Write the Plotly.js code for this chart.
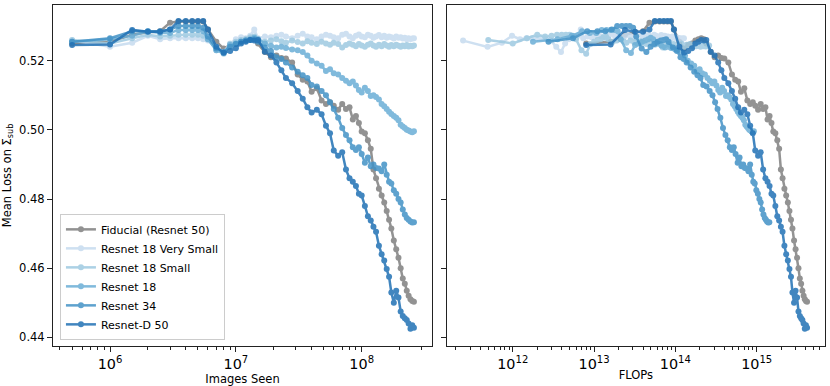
<!DOCTYPE html>
<html>
<head>
<meta charset="utf-8">
<script src="https://cdn.plot.ly/plotly-3.0.1.min.js"></script>
<style>
  html, body { margin: 0; padding: 0; background: #fff; }
  #chart { width: 830px; height: 386px; }
</style>
</head>
<body>
<div id="chart"></div>
<script>
// images seen at each evaluation (millions)
const imagesSeenM = [0.5, 1, 1.5, 2, 2.5, 3, 3.5, 4, 4.5, 5, 5.5, 6, 7, 8, 9, 10, 11, 12, 13, 14, 15,
  17, 19, 21, 23, 25, 28, 31, 34, 37, 40, 44, 48, 52, 56, 60, 65, 70, 75, 80, 85, 90, 95, 100,
  106, 112, 118, 124, 130, 137, 144, 151, 158, 165, 172, 180, 188, 196, 204, 212, 220, 228, 236, 244, 252, 260];

const fiducial = [0.5250, 0.5255, 0.5275, 0.5282, 0.5285, 0.5310, 0.5313, 0.5313, 0.5313, 0.5313, 0.5313, 0.5290,
  0.5255, 0.5235, 0.5245, 0.5250, 0.5258, 0.5262, 0.5265, 0.5262, 0.5250, 0.5225, 0.5210, 0.5215, 0.5208, 0.5206,
  0.5195, 0.5160, 0.5145, 0.5140, 0.5110, 0.5120, 0.5085, 0.5075, 0.5080, 0.5070, 0.5058, 0.5075, 0.5060, 0.5065,
  0.5030, 0.5040, 0.5020, 0.4995, 0.4990, 0.4970, 0.4945, 0.4885, 0.4860, 0.4830, 0.4810, 0.4790, 0.4765, 0.4740,
  0.4715, 0.4680, 0.4655, 0.4630, 0.4600, 0.4570, 0.4555, 0.4535, 0.4520, 0.4510, 0.4505, 0.4503];

const resnet18VerySmall = [0.5258, 0.5240, 0.5252, 0.5272, 0.5262, 0.5265, 0.5265, 0.5265, 0.5265, 0.5265, 0.5262,
  0.5258, 0.5240, 0.5225, 0.5250, 0.5262, 0.5268, 0.5265, 0.5272, 0.5290, 0.5265, 0.5270, 0.5268, 0.5272, 0.5275,
  0.5270, 0.5265, 0.5272, 0.5278, 0.5270, 0.5268, 0.5262, 0.5270, 0.5275, 0.5272, 0.5268, 0.5265, 0.5275, 0.5278,
  0.5270, 0.5265, 0.5272, 0.5276, 0.5270, 0.5268, 0.5275, 0.5272, 0.5266, 0.5270, 0.5274, 0.5268, 0.5272, 0.5266,
  0.5270, 0.5268, 0.5264, 0.5270, 0.5266, 0.5268, 0.5264, 0.5266, 0.5262, 0.5265, 0.5263, 0.5264, 0.5265];

const resnet18Small = [0.5260, 0.5250, 0.5265, 0.5275, 0.5270, 0.5272, 0.5275, 0.5275, 0.5275, 0.5275, 0.5272,
  0.5262, 0.5230, 0.5220, 0.5248, 0.5255, 0.5260, 0.5262, 0.5268, 0.5270, 0.5262, 0.5255, 0.5258, 0.5262, 0.5256,
  0.5252, 0.5258, 0.5254, 0.5250, 0.5256, 0.5252, 0.5248, 0.5255, 0.5250, 0.5246, 0.5252, 0.5248, 0.5238, 0.5245,
  0.5250, 0.5246, 0.5242, 0.5248, 0.5244, 0.5240, 0.5246, 0.5250, 0.5244, 0.5240, 0.5246, 0.5242, 0.5248, 0.5244,
  0.5240, 0.5245, 0.5242, 0.5246, 0.5243, 0.5240, 0.5244, 0.5242, 0.5245, 0.5241, 0.5243, 0.5242, 0.5244];

const resnet18 = [0.5255, 0.5262, 0.5272, 0.5285, 0.5280, 0.5280, 0.5289, 0.5289, 0.5289, 0.5289, 0.5285,
  0.5262, 0.5230, 0.5222, 0.5245, 0.5250, 0.5255, 0.5258, 0.5262, 0.5266, 0.5262, 0.5250, 0.5243, 0.5238, 0.5240,
  0.5237, 0.5232, 0.5230, 0.5225, 0.5215, 0.5200, 0.5192, 0.5185, 0.5170, 0.5175, 0.5164, 0.5160, 0.5150, 0.5142,
  0.5135, 0.5140, 0.5128, 0.5115, 0.5108, 0.5122, 0.5112, 0.5098, 0.5100, 0.5095, 0.5088, 0.5075, 0.5068, 0.5060,
  0.5052, 0.5046, 0.5040, 0.5035, 0.5028, 0.5015, 0.5010, 0.5005, 0.5000, 0.4998, 0.4995, 0.4993, 0.4996];

const resnet34 = [0.5255, 0.5265, 0.5285, 0.5285, 0.5285, 0.5290, 0.5300, 0.5300, 0.5300, 0.5300, 0.5295,
  0.5270, 0.5235, 0.5225, 0.5240, 0.5248, 0.5255, 0.5258, 0.5260, 0.5262, 0.5255, 0.5238, 0.5228, 0.5210, 0.5205,
  0.5195, 0.5180, 0.5168, 0.5158, 0.5150, 0.5130, 0.5125, 0.5112, 0.5100, 0.5080, 0.5060, 0.5035, 0.5005, 0.4985,
  0.4970, 0.4950, 0.4942, 0.4950, 0.4930, 0.4905, 0.4920, 0.4895, 0.4900, 0.4890, 0.4888, 0.4880, 0.4900, 0.4870,
  0.4850, 0.4845, 0.4825, 0.4815, 0.4800, 0.4790, 0.4770, 0.4755, 0.4745, 0.4740, 0.4735, 0.4732, 0.4733];

const resnetD50 = [0.5245, 0.5247, 0.5289, 0.5284, 0.5284, 0.5290, 0.5315, 0.5315, 0.5315, 0.5315, 0.5315,
  0.5290, 0.5240, 0.5223, 0.5228, 0.5236, 0.5250, 0.5255, 0.5260, 0.5258, 0.5260, 0.5226, 0.5215, 0.5195, 0.5172,
  0.5150, 0.5135, 0.5112, 0.5090, 0.5065, 0.5050, 0.5058, 0.5045, 0.5012, 0.4990, 0.4940, 0.4925, 0.4935, 0.4885,
  0.4860, 0.4850, 0.4838, 0.4815, 0.4810, 0.4780, 0.4750, 0.4738, 0.4720, 0.4705, 0.4665, 0.4640, 0.4622, 0.4598,
  0.4575, 0.4530, 0.4500, 0.4535, 0.4515, 0.4475, 0.4462, 0.4455, 0.4450, 0.4440, 0.4425, 0.4435, 0.4428];

// training FLOPs per image seen, per model
const flopsPerImage = [1.6e7, 4.9e5, 1.0e6, 3.55e6, 5.5e6, 1.6e7];

const names = ['Fiducial (Resnet 50)', 'Resnet 18 Very Small', 'Resnet 18 Small', 'Resnet 18', 'Resnet 34', 'Resnet-D 50'];
const colors = ['#808080', '#c6dbef', '#9ecae1', '#6baed6', '#4292c6', '#2171b5'];
const losses = [fiducial, resnet18VerySmall, resnet18Small, resnet18, resnet34, resnetD50];

const images = imagesSeenM.map(m => m * 1e6);

const data = [];
names.forEach((name, i) => {
  const style = {
    mode: 'lines+markers',
    type: 'scatter',
    line: { color: colors[i], width: 2.5 },
    marker: { color: colors[i], size: 6 },
    opacity: 0.85
  };
  data.push(Object.assign({ x: images, y: losses[i], name: name, xaxis: 'x', yaxis: 'y' }, style));
  data.push(Object.assign({ x: images.map(v => v * flopsPerImage[i]), y: losses[i], name: name,
    xaxis: 'x2', yaxis: 'y2', showlegend: false }, style));
});

const axisStyle = {
  showline: true, mirror: true, linecolor: '#222', linewidth: 1,
  ticks: 'outside', ticklen: 5, tickcolor: '#222', tickwidth: 1,
  showgrid: false, zeroline: false,
  tickfont: { family: 'DejaVu Sans', size: 11.5, color: '#000' }
};
const logMinor = { ticks: 'outside', ticklen: 3, tickcolor: '#222', dtick: 'D1', showgrid: false };

const layout = {
  width: 830, height: 386,
  margin: { l: 53, r: 5, t: 5, b: 40 },
  paper_bgcolor: '#fff', plot_bgcolor: '#fff',
  font: { family: 'DejaVu Sans', size: 11.5, color: '#000' },
  xaxis: Object.assign({}, axisStyle, {
    type: 'log', domain: [0, 0.491], range: [5.547, 8.559], dtick: 1,
    exponentformat: 'power', minor: logMinor,
    title: { text: 'Images Seen', font: { size: 11.5 }, standoff: 0 }
  }),
  xaxis2: Object.assign({}, axisStyle, {
    type: 'log', domain: [0.51, 1], range: [11.188, 15.84], dtick: 1, anchor: 'y2',
    exponentformat: 'power', minor: logMinor,
    title: { text: 'FLOPs', font: { size: 11.5 }, standoff: 0 }
  }),
  yaxis: Object.assign({}, axisStyle, {
    range: [0.4375, 0.5361], tickvals: [0.44, 0.46, 0.48, 0.50, 0.52], tickformat: '.2f',
    title: { text: 'Mean Loss on Σ<sub>sub</sub>', font: { size: 11.5 }, standoff: 5 }
  }),
  yaxis2: Object.assign({}, axisStyle, {
    range: [0.4375, 0.5361], tickvals: [0.44, 0.46, 0.48, 0.50, 0.52], anchor: 'x2',
    matches: 'y', showticklabels: false
  }),
  showlegend: true,
  legend: {
    x: 0.009, y: 0.018, xanchor: 'left', yanchor: 'bottom',
    bgcolor: 'rgba(255,255,255,0.85)', bordercolor: '#ccc', borderwidth: 1,
    tracegroupgap: 0, itemwidth: 30,
    font: { family: 'DejaVu Sans', size: 11, color: '#000' }
  }
};

Plotly.newPlot('chart', data, layout, { displayModeBar: false, staticPlot: true });
</script>
</body>
</html>
